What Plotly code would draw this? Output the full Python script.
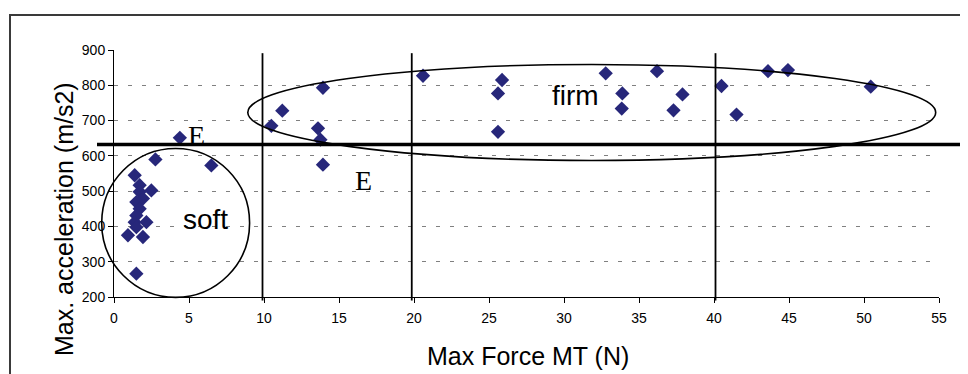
import plotly.graph_objects as go

# ---------------- data ----------------
force_mt = [4.39, 2.76, 6.49, 1.38, 1.71, 2.49, 1.71, 1.93, 1.49, 1.71, 1.49, 2.16, 1.38,
            1.49, 0.93, 1.93, 1.49, 10.49, 11.22, 13.93, 13.6, 13.76, 13.93, 20.6, 25.87,
            25.6, 25.6, 32.78, 33.89, 33.85, 36.2, 37.9, 37.3, 40.5, 41.5, 43.6, 44.93, 50.45]
max_accel = [651, 590, 573, 545, 517, 502, 498, 479, 469, 450, 431, 412, 412,
             398, 375, 370, 266, 685, 728, 793, 678, 646, 575, 827, 815,
             777, 668, 834, 777, 734, 840, 774, 729, 798, 717, 840, 843, 796]

x_ticks = [0, 5, 10, 15, 20, 25, 30, 35, 40, 45, 50, 55]
y_ticks = [200, 300, 400, 500, 600, 700, 800, 900]

force_boundaries = [9.9, 19.85, 40.1]   # vertical class boundaries
accel_threshold = 632                   # horizontal class boundary

# group outlines: (centre x, centre y, radius x, radius y)
soft_group = (4.11, 410, 4.93, 211)
firm_group = (31.85, 723, 22.93, 136)

labels = [("E", 5.5, 659), ("E", 16.65, 531)]
group_labels = [("soft", 6.1, 420), ("firm", 30.75, 772)]

# ---------------- layout geometry ----------------
OFF = 8                 # page body margin
W, H = 960, 366
ML, MT = 106, 42
MR, MB = 29, 77
XMIN, XMAX = 0, 55
YMIN, YMAX = 200, 900
PW, PH = W - ML - MR, H - MT - MB


def fx(v):
    return (v - XMIN) / (XMAX - XMIN)


def fy(v):
    return (v - YMIN) / (YMAX - YMIN)


def pxx(p):  # screenshot pixel -> paper
    return (p - OFF - ML) / PW


def pyy(q):
    return (H - MB - (q - OFF)) / PH


fig = go.Figure()
fig.add_trace(go.Scatter(
    x=force_mt, y=max_accel, mode="markers",
    marker=dict(symbol="diamond", size=11, color="#27277A", line=dict(width=0)),
    showlegend=False, cliponaxis=False,
))

shapes = []
for b in force_boundaries:
    shapes.append(dict(type="line", xref="paper", yref="paper",
                       x0=fx(b), x1=fx(b), y0=fy(891), y1=fy(190),
                       line=dict(color="black", width=1.8)))
shapes.append(dict(type="line", xref="paper", yref="paper",
                   x0=pxx(97), x1=pxx(980), y0=fy(accel_threshold), y1=fy(accel_threshold),
                   line=dict(color="black", width=3.5)))
for cx, cy, rx, ry in (soft_group, firm_group):
    shapes.append(dict(type="circle", xref="paper", yref="paper",
                       x0=fx(cx - rx), x1=fx(cx + rx), y0=fy(cy - ry), y1=fy(cy + ry),
                       line=dict(color="black", width=1.6)))
# outer frame
shapes.append(dict(type="line", xref="paper", yref="paper",
                   x0=pxx(9), x1=pxx(980), y0=pyy(15), y1=pyy(15),
                   line=dict(color="#3a3a3a", width=2)))
shapes.append(dict(type="line", xref="paper", yref="paper",
                   x0=pxx(10), x1=pxx(10), y0=pyy(14), y1=pyy(390),
                   line=dict(color="#3a3a3a", width=2)))

annotations = []
for t, x, y in labels:
    annotations.append(dict(text=t, x=x, y=y, xref="x", yref="y", showarrow=False,
                            xanchor="center", yanchor="middle",
                            font=dict(family="Liberation Serif, Times New Roman", size=28,
                                      color="black")))
for t, x, y in group_labels:
    annotations.append(dict(text=t, x=x, y=y, xref="x", yref="y", showarrow=False,
                            xanchor="center", yanchor="middle",
                            font=dict(family="Liberation Sans, Arial", size=28, color="black")))
annotations.append(dict(text="Max Force MT (N)", x=pxx(528), y=pyy(356), xref="paper",
                        yref="paper", showarrow=False, xanchor="center", yanchor="middle",
                        font=dict(family="Liberation Sans, Arial", size=25, color="black")))
annotations.append(dict(text="Max. acceleration (m/s2)", x=pxx(64), y=pyy(219), xref="paper",
                        yref="paper", showarrow=False, textangle=-90,
                        xanchor="center", yanchor="middle",
                        font=dict(family="Liberation Sans, Arial", size=25, color="black")))

fig.update_layout(
    width=W, height=H, margin=dict(l=ML, r=MR, t=MT, b=MB),
    paper_bgcolor="white", plot_bgcolor="white",
    shapes=shapes, annotations=annotations,
    xaxis=dict(range=[XMIN, XMAX], tickvals=x_ticks, ticktext=[str(v) for v in x_ticks],
               showgrid=False, zeroline=False, showline=True, linecolor="black", linewidth=1,
               ticks="outside", ticklen=5, tickcolor="black", ticklabelstandoff=3,
               tickfont=dict(family="Liberation Sans, Arial", size=14, color="black")),
    yaxis=dict(range=[YMIN, YMAX], tickvals=y_ticks, ticktext=[str(v) for v in y_ticks],
               showgrid=True, gridcolor="#808080", gridwidth=1, griddash="4px,10px",
               zeroline=False, showline=True, linecolor="black", linewidth=1,
               ticks="outside", ticklen=5, tickcolor="black",
               tickfont=dict(family="Liberation Sans, Arial", size=14, color="black")),
    font=dict(family="Liberation Sans, Arial"),
)

fig.write_html("out.html")
